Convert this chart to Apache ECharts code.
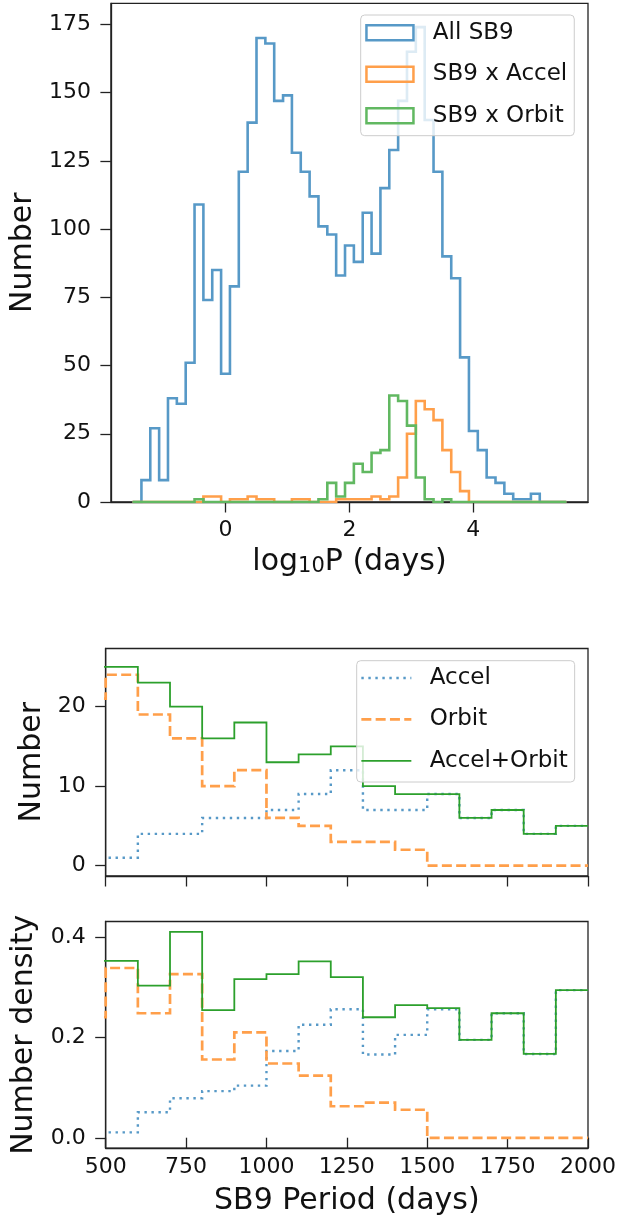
<!DOCTYPE html>
<html>
<head>
<meta charset="utf-8">
<title>SB9 period histograms</title>
<script src="https://cdn.jsdelivr.net/npm/echarts@6.0.0/dist/echarts.min.js"></script>
<style>
  html, body { margin: 0; padding: 0; background: #fff; }
  #main { width: 619px; height: 1226px; }
</style>
</head>
<body>
<div id="main"></div>
<script>
// ---- top panel: log10 P histogram, 49 bins from -1.5 to 5.5 ----
var logPStart = -1.5;
var logPBinWidth = 7 / 49;
var allSB9 = [0, 8, 27, 8, 38, 36, 51, 109, 74, 85, 47, 79, 121, 139, 170, 168, 147, 149, 128, 121,
              112, 101, 98, 83, 94, 88, 106, 91, 115, 129, 147, 165, 174, 140, 121, 90, 82, 53, 26, 19,
              9, 7, 3, 1, 1, 3, 0, 0, 0];
var sb9Accel = [0, 0, 0, 0, 0, 0, 0, 0, 2, 2, 0, 1, 1, 2, 1, 1, 0, 0, 1, 1,
                0, 0, 0, 1, 1, 1, 1, 2, 1, 2, 9, 25, 37, 34, 30, 19, 11, 4, 0, 0,
                0, 0, 0, 0, 0, 0, 0, 0, 0];
var sb9Orbit = [0, 0, 0, 0, 0, 0, 0, 1, 0, 0, 0, 0, 0, 0, 0, 0, 0, 0, 0, 0,
                0, 1, 7, 2, 7, 14, 11, 18, 19, 39, 37, 28, 9, 1, 0, 1, 0, 0, 0, 0,
                0, 0, 0, 0, 0, 0, 0, 0, 0];
var topXTicks = [0, 2, 4];
var topYTicks = [0, 25, 50, 75, 100, 125, 150, 175];

// ---- lower panels: 100-day bins from 400 days (first bin sits left of the axis) ----
var periodStart = 400;
var periodBinWidth = 100;
var accelCounts = [1, 1, 4, 4, 6, 6, 7, 9, 12, 7, 7, 9, 6, 7, 4, 5];
var orbitCounts = [21, 24, 19, 16, 10, 12, 6, 5, 3, 3, 2, 0, 0, 0, 0, 0];
var bothCounts  = [25, 25, 23, 20, 16, 18, 13, 14, 15, 10, 9, 9, 6, 7, 4, 5];
var accelDensity = [0.011, 0.011, 0.051, 0.079, 0.093, 0.104, 0.173, 0.225, 0.256, 0.166, 0.205, 0.256, 0.195, 0.248, 0.167, 0.294];
var orbitDensity = [0.24, 0.338, 0.248, 0.326, 0.156, 0.210, 0.148, 0.124, 0.063, 0.070, 0.056, 0, 0, 0, 0, 0];
var bothDensity  = [0.352, 0.352, 0.303, 0.41, 0.254, 0.316, 0.326, 0.351, 0.320, 0.240, 0.264, 0.258, 0.195, 0.248, 0.167, 0.294];
var countTicks = [0, 10, 20];
var densityTicks = [0, 0.2, 0.4];

var FONT = 'DejaVu Sans';
var INK = '#222';
var BLUE = '#5799c7', ORANGE = '#ff9f4a', GREEN_L = '#61b861', GREEN = '#2ca02c';

// outline of a histogram drawn as steps
function steps(start, width, counts, closed) {
    var pts = [];
    if (closed) pts.push([start, 0]);
    for (var i = 0; i < counts.length; i++) {
        var x0 = start + i * width;
        pts.push([x0, counts[i]], [x0 + width, counts[i]]);
    }
    if (closed) pts.push([start + counts.length * width, 0]);
    return pts;
}

function axisBase(extra) {
    var a = {
        type: 'value',
        splitLine: { show: false },
        axisLine: { show: true, onZero: false, lineStyle: { color: INK, width: 1.3 } },
        axisTick: { show: true, inside: false, length: 10.5, lineStyle: { color: INK, width: 1.3 } },
        axisLabel: { fontSize: 22, color: '#111', fontFamily: FONT },
        nameTextStyle: { fontSize: 30, color: '#111', fontFamily: FONT }
    };
    for (var k in extra) {
        if (typeof extra[k] === 'object' && a[k] && !Array.isArray(extra[k])) {
            for (var j in extra[k]) a[k][j] = extra[k][j];
        } else {
            a[k] = extra[k];
        }
    }
    return a;
}

function line(name, xi, data, color, width, type) {
    return {
        type: 'line', name: name, xAxisIndex: xi, yAxisIndex: xi,
        data: data, symbol: 'none', clip: true,
        lineStyle: { color: color, width: width, type: type || 'solid', join: 'miter', cap: 'butt' }
    };
}

var chart = echarts.init(document.getElementById('main'));

var gridStyle = { show: true, borderColor: INK, borderWidth: 1.3, backgroundColor: 'transparent' };
var option = {
    animation: false,
    grid: [
        Object.assign({ left: 105, top: 3.4, width: 483, height: 498.6 }, gridStyle),
        Object.assign({ left: 105.7, top: 648.5, width: 482.3, height: 227.5 }, gridStyle),
        Object.assign({ left: 105.7, top: 921.5, width: 482.3, height: 226.7 }, gridStyle)
    ],
    xAxis: [
        axisBase({
            gridIndex: 0, min: -1.85, max: 5.85,
            axisTick: { customValues: topXTicks },
            axisLabel: { customValues: topXTicks, margin: 17 },
            name: '{m|log}{s|10}{m|P (days)}', nameLocation: 'middle', nameGap: 45.4,
            nameTextStyle: {
                fontSize: 30, color: '#111', fontFamily: FONT,
                rich: {
                    m: { fontSize: 30, lineHeight: 30, fontFamily: FONT, color: '#111', verticalAlign: 'bottom' },
                    s: { fontSize: 21, lineHeight: 17.8, fontFamily: FONT, color: '#111', verticalAlign: 'bottom' }
                }
            }
        }),
        axisBase({
            gridIndex: 1, min: 500, max: 2000, interval: 250,
            axisLabel: { show: false }
        }),
        axisBase({
            gridIndex: 2, min: 500, max: 2000, interval: 250,
            axisTick: { inside: true },
            axisLabel: { margin: 8, formatter: function (v) { return String(v); } },
            name: 'SB9 Period (days)', nameLocation: 'middle', nameGap: 38
        })
    ],
    yAxis: [
        axisBase({
            gridIndex: 0, min: 0, max: 182.7,
            axisTick: { customValues: topYTicks },
            axisLabel: { customValues: topYTicks, margin: 20 },
            name: 'Number', nameLocation: 'middle', nameGap: 68.4
        }),
        axisBase({
            gridIndex: 1, min: -1.3, max: 27.3,
            axisTick: { customValues: countTicks },
            axisLabel: { customValues: countTicks, margin: 20 },
            name: 'Number', nameLocation: 'middle', nameGap: 52
        }),
        axisBase({
            gridIndex: 2, min: -0.0205, max: 0.4305,
            axisTick: { customValues: densityTicks },
            axisLabel: { customValues: densityTicks, margin: 20, formatter: function (v) { return v.toFixed(1); } },
            name: 'Number density', nameLocation: 'middle', nameGap: 66
        })
    ],
    legend: [
        {
            orient: 'vertical', left: 360.7, top: 15,
            padding: [6.2, 7, 8.5, 4.5],
            itemWidth: 47, itemHeight: 15, itemGap: 18.5,
            icon: 'rect', selectedMode: false,
            backgroundColor: 'rgba(255,255,255,0.8)', borderColor: '#cccccc', borderWidth: 1, borderRadius: 4,
            textStyle: { fontSize: 23, lineHeight: 15, color: '#111', fontFamily: FONT, padding: [0, 0, 0, 14.4] },
            data: [
                { name: 'All SB9', itemStyle: { color: 'rgba(255,255,255,0)', borderColor: BLUE, borderWidth: 2.5 } },
                { name: 'SB9 x Accel', itemStyle: { color: 'rgba(255,255,255,0)', borderColor: ORANGE, borderWidth: 2.5 } },
                { name: 'SB9 x Orbit', itemStyle: { color: 'rgba(255,255,255,0)', borderColor: GREEN_L, borderWidth: 2.5 } }
            ]
        },
        {
            orient: 'vertical', left: 356.7, top: 660.7,
            padding: [5.8, 7, 9.7, 3.3],
            itemWidth: 50, itemHeight: 15, itemGap: 18.4,
            selectedMode: false,
            backgroundColor: 'rgba(255,255,255,0.8)', borderColor: '#cccccc', borderWidth: 1, borderRadius: 4,
            textStyle: { fontSize: 23, lineHeight: 15, color: '#111', fontFamily: FONT, padding: [0, 0, 0, 13.3] },
            data: [
                { name: 'Accel', itemStyle: { opacity: 0 }, lineStyle: { color: BLUE, width: 2.4, type: [2.4, 4.6], cap: 'butt' } },
                { name: 'Orbit', itemStyle: { opacity: 0 }, lineStyle: { color: ORANGE, width: 2.7, type: [10, 4.3], cap: 'butt' } },
                { name: 'Accel+Orbit', itemStyle: { opacity: 0 }, lineStyle: { color: GREEN, width: 1.8, type: 'solid' } }
            ]
        }
    ],
    series: [
        line('All SB9', 0, steps(logPStart, logPBinWidth, allSB9, true), BLUE, 2.6),
        line('SB9 x Accel', 0, steps(logPStart, logPBinWidth, sb9Accel, true), ORANGE, 2.6),
        line('SB9 x Orbit', 0, steps(logPStart, logPBinWidth, sb9Orbit, true), GREEN_L, 2.6),

        line('Accel', 1, steps(periodStart, periodBinWidth, accelCounts, false), BLUE, 2.4, [2.4, 4.6]),
        line('Orbit', 1, steps(periodStart, periodBinWidth, orbitCounts, false), ORANGE, 2.7, [10, 4.3]),
        line('Accel+Orbit', 1, steps(periodStart, periodBinWidth, bothCounts, false), GREEN, 1.8),

        line('Accel', 2, steps(periodStart, periodBinWidth, accelDensity, false), BLUE, 2.4, [2.4, 4.6]),
        line('Orbit', 2, steps(periodStart, periodBinWidth, orbitDensity, false), ORANGE, 2.7, [10, 4.3]),
        line('Accel+Orbit', 2, steps(periodStart, periodBinWidth, bothDensity, false), GREEN, 1.8)
    ]
};
chart.setOption(option);
</script>
</body>
</html>
